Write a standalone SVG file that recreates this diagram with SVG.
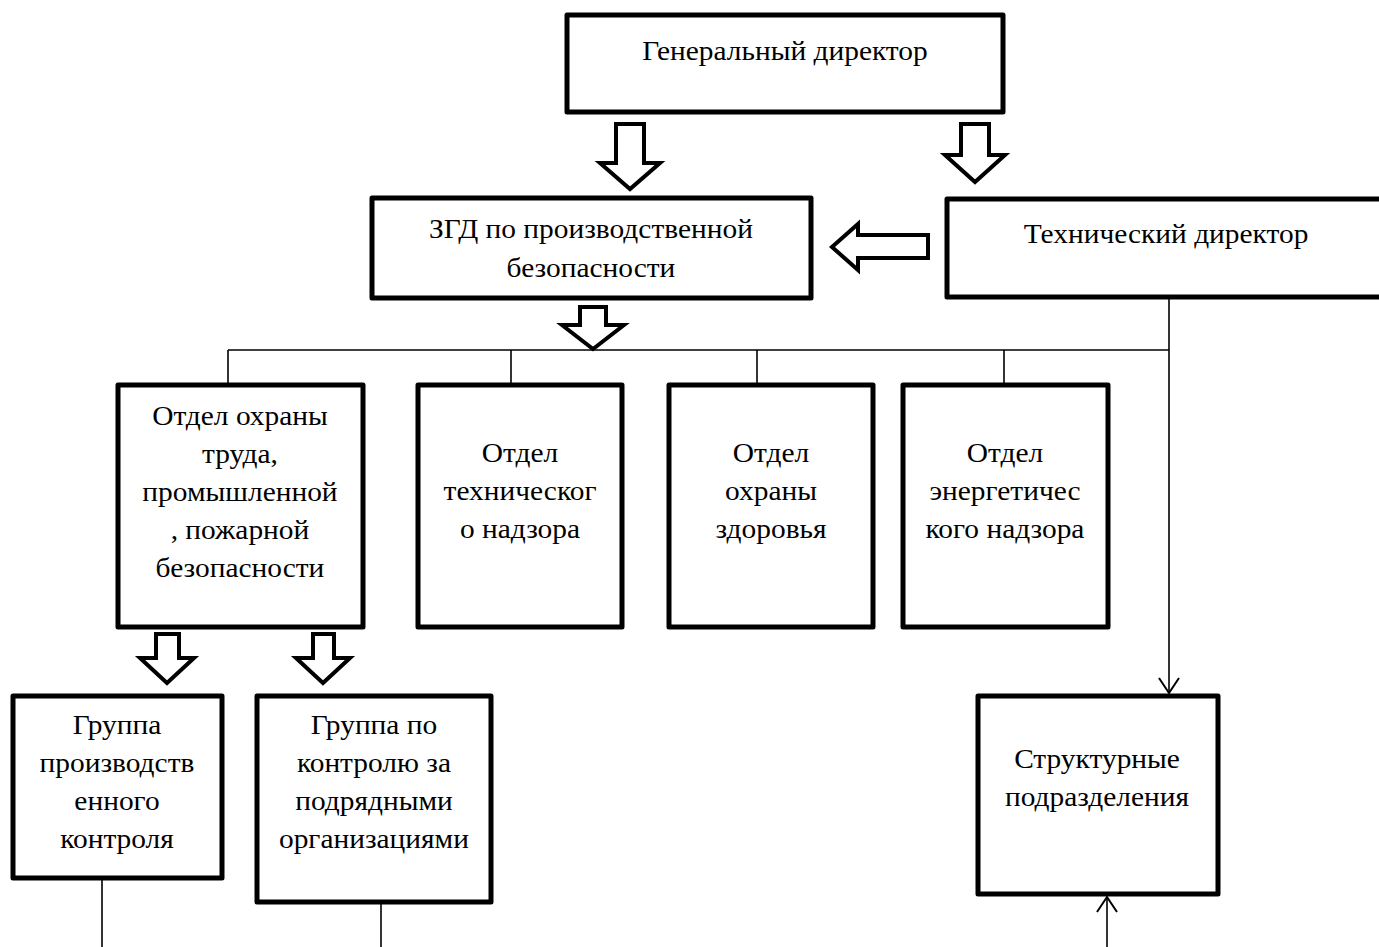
<svg xmlns="http://www.w3.org/2000/svg" width="1379" height="947" viewBox="0 0 1379 947">
<style>
.box{fill:#fff;stroke:#000;stroke-width:5;stroke-linejoin:round}
.blk{fill:#fff;stroke:#000;stroke-width:4;stroke-linejoin:miter}
.ln{fill:none;stroke:#000;stroke-width:1.6}
.t{font-family:"Liberation Serif","Times New Roman",serif;font-size:26.5px;fill:#000;text-anchor:middle}
</style>
<defs>
<marker id="open" viewBox="0 0 20 24" refX="18" refY="12" markerWidth="20" markerHeight="24" markerUnits="userSpaceOnUse" orient="auto">
<path d="M3,2 L18,12 L3,22" fill="none" stroke="#000" stroke-width="2"/>
</marker>
</defs>
<rect x="0" y="0" width="1379" height="947" fill="#fff"/>
<g id="connectors">
<path class="ln" d="M228,350 H1169"/>
<path class="ln" d="M228,350 V385"/>
<path class="ln" d="M511,350 V385"/>
<path class="ln" d="M757,350 V385"/>
<path class="ln" d="M1004,350 V385"/>
<path class="ln" d="M1169,298 V693" marker-end="url(#open)"/>
<path class="ln" d="M102,878 V947"/>
<path class="ln" d="M381,903 V947"/>
<path class="ln" d="M1107,947 V897" marker-end="url(#open)"/>
<path class="blk" d="M616,124 H644 V163 H660 L630,189 L600,163 H616 Z"/>
<path class="blk" d="M961,124 H989 V155 H1005 L975,182 L945,155 H961 Z"/>
<path class="blk" d="M928,235 V258 H858 V270 L832,247 L858,224 V235 Z"/>
<path class="blk" d="M580,307 H606 V325 H624 L593,349 L562,325 H580 Z"/>
<path class="blk" d="M156,634 H179 V658 H194 L167,683 L140,658 H156 Z"/>
<path class="blk" d="M313,634 H334 V658 H350 L323,683 L296,658 H313 Z"/>
</g>
<g id="gd">
<rect class="box" x="567" y="15" width="436" height="97"/>
<text class="t" transform="scale(1.11,1)" x="707.2" y="60">Генеральный директор</text>
</g>
<g id="zgd">
<rect class="box" x="372" y="198" width="439" height="100"/>
<text class="t" transform="scale(1.11,1)" x="532.4" y="238">ЗГД по производственной</text>
<text class="t" transform="scale(1.11,1)" x="532.4" y="277">безопасности</text>
</g>
<g id="td">
<rect class="box" x="947" y="199" width="445" height="98"/>
<text class="t" transform="scale(1.11,1)" x="1050.5" y="243">Технический директор</text>
</g>
<g id="otdel-ot">
<rect class="box" x="118" y="385" width="245" height="242"/>
<text class="t" transform="scale(1.11,1)" x="216.2" y="425">Отдел охраны</text>
<text class="t" transform="scale(1.11,1)" x="216.2" y="463">труда,</text>
<text class="t" transform="scale(1.11,1)" x="216.2" y="501">промышленной</text>
<text class="t" transform="scale(1.11,1)" x="216.2" y="539">, пожарной</text>
<text class="t" transform="scale(1.11,1)" x="216.2" y="577">безопасности</text>
</g>
<g id="otdel-tn">
<rect class="box" x="418" y="385" width="204" height="242"/>
<text class="t" transform="scale(1.11,1)" x="468.5" y="462">Отдел</text>
<text class="t" transform="scale(1.11,1)" x="468.5" y="500">техническог</text>
<text class="t" transform="scale(1.11,1)" x="468.5" y="538">о надзора</text>
</g>
<g id="otdel-oz">
<rect class="box" x="669" y="385" width="204" height="242"/>
<text class="t" transform="scale(1.11,1)" x="694.6" y="462">Отдел</text>
<text class="t" transform="scale(1.11,1)" x="694.6" y="500">охраны</text>
<text class="t" transform="scale(1.11,1)" x="694.6" y="538">здоровья</text>
</g>
<g id="otdel-en">
<rect class="box" x="903" y="385" width="205" height="242"/>
<text class="t" transform="scale(1.11,1)" x="905.4" y="462">Отдел</text>
<text class="t" transform="scale(1.11,1)" x="905.4" y="500">энергетичес</text>
<text class="t" transform="scale(1.11,1)" x="905.4" y="538">кого надзора</text>
</g>
<g id="gr-pk">
<rect class="box" x="13" y="696" width="209" height="182"/>
<text class="t" transform="scale(1.11,1)" x="105.4" y="734">Группа</text>
<text class="t" transform="scale(1.11,1)" x="105.4" y="772">производств</text>
<text class="t" transform="scale(1.11,1)" x="105.4" y="810">енного</text>
<text class="t" transform="scale(1.11,1)" x="105.4" y="848">контроля</text>
</g>
<g id="gr-po">
<rect class="box" x="257" y="696" width="234" height="206"/>
<text class="t" transform="scale(1.11,1)" x="336.9" y="734">Группа по</text>
<text class="t" transform="scale(1.11,1)" x="336.9" y="772">контролю за</text>
<text class="t" transform="scale(1.11,1)" x="336.9" y="810">подрядными</text>
<text class="t" transform="scale(1.11,1)" x="336.9" y="848">организациями</text>
</g>
<g id="struct">
<rect class="box" x="978" y="696" width="240" height="198"/>
<text class="t" transform="scale(1.11,1)" x="988.3" y="768">Структурные</text>
<text class="t" transform="scale(1.11,1)" x="988.3" y="806">подразделения</text>
</g>
</svg>
